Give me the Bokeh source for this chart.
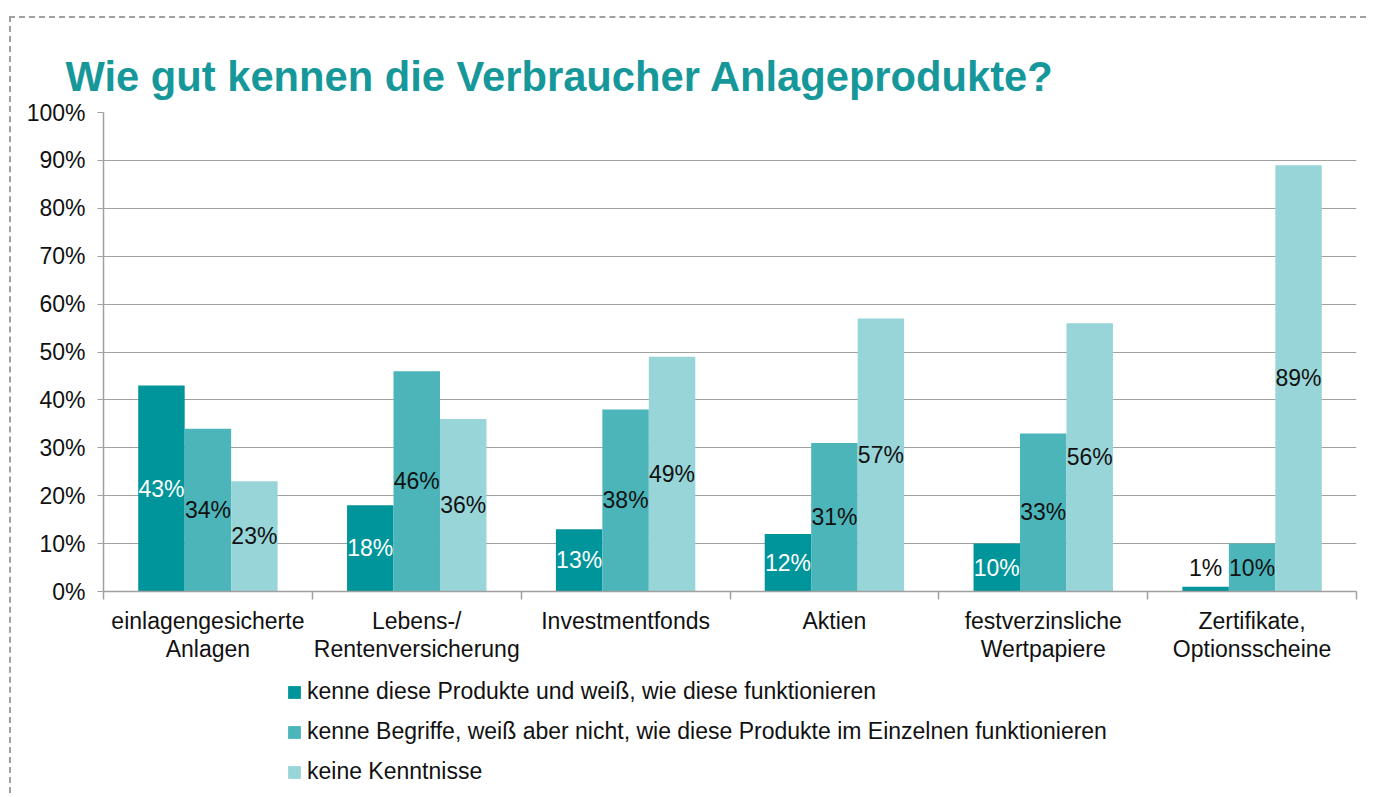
from bokeh.plotting import figure
from bokeh.layouts import column
from bokeh.models import (ColumnDataSource, Range1d, FixedTicker, PrintfTickFormatter,
                          Legend, LegendItem, Title)
from bokeh.core.properties import value
from bokeh.embed import file_html
from bokeh.resources import INLINE

categories = ["einlagengesicherte\nAnlagen", "Lebens-/\nRentenversicherung", "Investmentfonds",
              "Aktien", "festverzinsliche\nWertpapiere", "Zertifikate,\nOptionsscheine"]
series_names = ["kenne diese Produkte und weiß, wie diese funktionieren",
                "kenne Begriffe, weiß aber nicht, wie diese Produkte im Einzelnen funktionieren",
                "keine Kenntnisse"]
kenne_funktion = [43, 18, 13, 12, 10, 1]
kenne_begriffe = [34, 46, 38, 31, 33, 10]
keine_kenntnisse = [23, 36, 49, 57, 56, 89]
y_ticks = [0, 10, 20, 30, 40, 50, 60, 70, 80, 90, 100]

series = [kenne_funktion, kenne_begriffe, keine_kenntnisse]
colors = ["#00959a", "#4bb5ba", "#98d5d8"]
label_colors = ["white", "#111111", "#111111"]
offsets = [-0.2225, 0.0, 0.2225]
bar_w = 0.2225
FONT = "Liberation Sans"
W = 1355

p = figure(width=W, height=650, output_backend="svg", toolbar_location=None,
           x_range=Range1d(0, len(categories)), y_range=Range1d(0, 100),
           min_border_left=92, min_border_right=10, min_border_top=94, min_border_bottom=77)
p.outline_line_color = None
p.background_fill_color = "white"
p.border_fill_color = "white"

p.title = Title(text="Wie gut kennen die Verbraucher Anlageprodukte?", align="left",
                offset=-38, standoff=26, text_font=FONT, text_font_size="41.7px",
                text_font_style="bold", text_color="#16989b")

for k, vals in enumerate(series):
    xs = [i + 0.5 + offsets[k] for i in range(len(vals))]
    ly = [max(v / 2, 5) for v in vals]
    lc = [label_colors[k] if v >= 5 else "#111111" for v in vals]
    src = ColumnDataSource(dict(x=xs, top=vals, ly=ly, lc=lc,
                                txt=["%d%%" % v for v in vals]))
    p.vbar(x="x", top="top", width=bar_w, bottom=0, source=src,
           fill_color=colors[k], line_color=None)
    p.text(x="x", y="ly", text="txt", source=src, text_align="center",
           text_baseline="middle", text_color="lc", text_font=value(FONT),
           text_font_size="23px")

# Axes
p.yaxis.ticker = FixedTicker(ticks=y_ticks)
p.yaxis.formatter = PrintfTickFormatter(format="%d%%")
p.yaxis.axis_line_color = "#a0a0a0"
p.yaxis.axis_line_width = 1.5
p.yaxis.major_tick_line_color = "#a0a0a0"
p.yaxis.major_tick_out = 6
p.yaxis.major_tick_in = 0
p.yaxis.minor_tick_line_color = None
p.yaxis.major_label_standoff = 12
p.yaxis.major_label_text_font = FONT
p.yaxis.major_label_text_font_size = "23px"
p.yaxis.major_label_text_color = "#111111"

centers = [i + 0.5 for i in range(len(categories))]
bounds = [i for i in range(len(categories) + 1)]
p.xaxis.ticker = FixedTicker(ticks=centers, minor_ticks=bounds)
p.xaxis.major_label_overrides = {c: lab for c, lab in zip(centers, categories)}
p.xaxis.axis_line_color = "#a0a0a0"
p.xaxis.axis_line_width = 1.5
p.xaxis.major_tick_line_color = None
p.xaxis.major_tick_out = 0
p.xaxis.major_tick_in = 0
p.xaxis.minor_tick_line_color = "#a0a0a0"
p.xaxis.minor_tick_line_width = 1.5
p.xaxis.minor_tick_out = 8
p.xaxis.minor_tick_in = 0
p.xaxis.major_label_standoff = 8
p.xaxis.major_label_text_font = FONT
p.xaxis.major_label_text_font_size = "23px"
p.xaxis.major_label_text_line_height = 1.1
p.xaxis.major_label_text_color = "#111111"

p.xgrid.grid_line_color = None
p.ygrid.ticker = FixedTicker(ticks=y_ticks)
p.ygrid.grid_line_color = "#a0a0a0"
p.ygrid.grid_line_width = 1.2

# Legend panel (separate canvas below the chart)
p2 = figure(width=W, height=125, output_backend="svg", toolbar_location=None,
            x_range=Range1d(0, 1), y_range=Range1d(0, 1), min_border=0)
p2.axis.visible = False
p2.grid.visible = False
p2.outline_line_color = None
p2.border_fill_color = "white"
leg_renderers = []
for k, name in enumerate(series_names):
    # placeholder swatch outside the visible range; only used by the legend
    r = p2.rect(x=[-5], y=[-5], width=0.01, height=0.01, fill_color=colors[k], line_color=None)
    leg_renderers.append(r)
legend = Legend(items=[LegendItem(label=n, renderers=[r]) for n, r in zip(series_names, leg_renderers)],
                location=(183, 8), orientation="vertical", background_fill_alpha=0,
                border_line_color=None, padding=0, margin=0, spacing=13,
                label_height=24, glyph_height=16, glyph_width=16, label_standoff=5,
                label_text_font=FONT, label_text_font_size="23px", label_text_color="#111111")
p2.add_layout(legend, "center")

layout = column(p, p2, spacing=0)
layout.margin = (16, 0, 0, 9)
layout.styles = {"border-top": "2px dashed #a0a0a0", "border-left": "2px dashed #a0a0a0"}

open("out.html", "w").write(file_html(layout, INLINE))
